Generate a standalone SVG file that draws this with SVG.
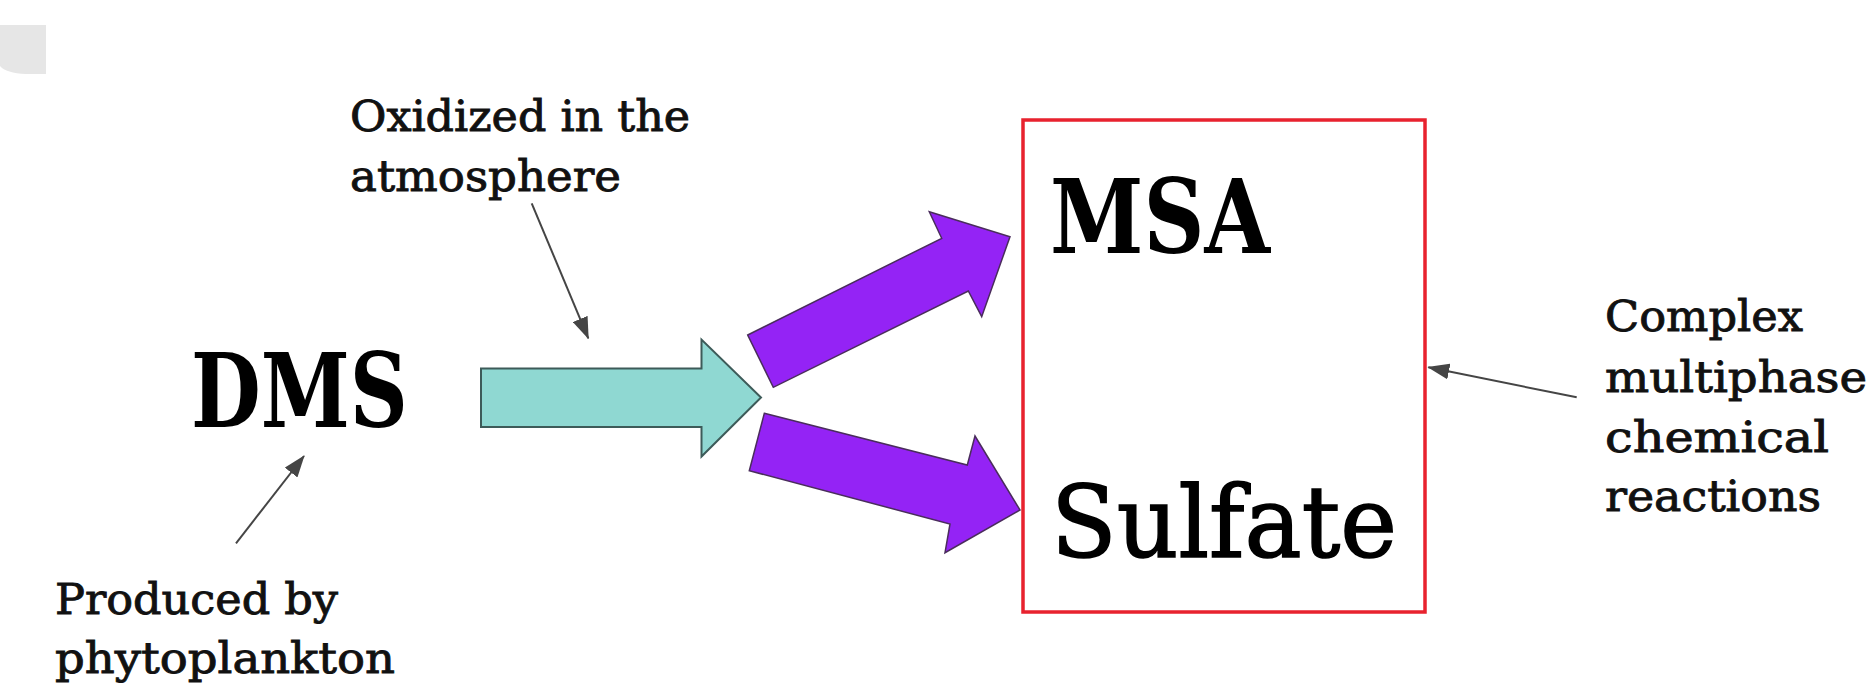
<svg xmlns="http://www.w3.org/2000/svg" width="1869" height="685" viewBox="0 0 1869 685">
  <style>
    .lbl { font-family: "DejaVu Serif", "Liberation Serif", serif; font-size: 43px; fill: #111; stroke: #111; stroke-width: 0.9; }
    .big { font-family: "DejaVu Serif", "Liberation Serif", serif; font-weight: bold; font-size: 102px; fill: #000; }
    .bigr { font-family: "DejaVu Serif", "Liberation Serif", serif; font-size: 100px; fill: #000; stroke: #000; stroke-width: 1.6; }
    .teal { fill: #8fd8d2; stroke: #3d5b59; stroke-width: 2; stroke-linejoin: miter; }
    .purple { fill: #9423f5; stroke: #4a2d5c; stroke-width: 1.5; stroke-linejoin: miter; }
    .conn { stroke: #454545; stroke-width: 2; fill: none; }
    .box { fill: #ffffff; stroke: #e8222e; stroke-width: 3.5; }
  </style>
  <defs>
    <marker id="ah" markerUnits="userSpaceOnUse" markerWidth="22" markerHeight="16" viewBox="0 0 22 16" refX="21" refY="8" orient="auto">
      <path d="M0,0 L22,8 L0,16 Z" fill="#454545"/>
    </marker>
  </defs>
  <rect width="1869" height="685" fill="#ffffff"/>
  <path d="M0,25 L46,25 L46,74 L26,74 Q6,73 0,66 Z" fill="#e6e6e6"/>

  <g id="node-dms">
    <text class="big" x="191" y="427" textLength="217" lengthAdjust="spacingAndGlyphs">DMS</text>
  </g>
  <g id="node-produced">
    <text class="lbl" x="55" y="614" textLength="283" lengthAdjust="spacingAndGlyphs">Produced by</text>
    <text class="lbl" x="55" y="673" textLength="340" lengthAdjust="spacingAndGlyphs">phytoplankton</text>
  </g>
  <g id="node-oxidized">
    <text class="lbl" x="350" y="131" textLength="340" lengthAdjust="spacingAndGlyphs">Oxidized in the</text>
    <text class="lbl" x="350" y="191" textLength="271" lengthAdjust="spacingAndGlyphs">atmosphere</text>
  </g>
  <g id="node-box">
    <rect class="box" x="1023" y="120" width="402" height="492"/>
    <text class="big" x="1050" y="253" textLength="220" lengthAdjust="spacingAndGlyphs">MSA</text>
    <text class="bigr" x="1051" y="557" textLength="346" lengthAdjust="spacingAndGlyphs">Sulfate</text>
  </g>
  <g id="node-complex">
    <text class="lbl" x="1605" y="331" textLength="198" lengthAdjust="spacingAndGlyphs">Complex</text>
    <text class="lbl" x="1605" y="392" textLength="262" lengthAdjust="spacingAndGlyphs">multiphase</text>
    <text class="lbl" x="1605" y="452" textLength="224" lengthAdjust="spacingAndGlyphs">chemical</text>
    <text class="lbl" x="1605" y="511" textLength="216" lengthAdjust="spacingAndGlyphs">reactions</text>
  </g>
  <g id="flow-arrows">
    <polygon id="arrow-teal" class="teal" points="481,368.5 701.5,368.5 701.5,339.5 761,397.5 701.5,456.5 701.5,427 481,427"/>
    <polygon id="arrow-msa" class="purple" points="747.7,335 941.7,238.3 929.3,211.7 1010,236.7 981.7,316.7 968.3,291 773.3,387.3"/>
    <polygon id="arrow-sulfate" class="purple" points="764.3,413.3 967.3,465 975,436 1020,510 945,552.7 950,524 749.3,470.7"/>
  </g>
  <g id="connectors">
    <line class="conn" x1="531.7" y1="203.3" x2="588.3" y2="338.3" marker-end="url(#ah)"/>
    <line class="conn" x1="236" y1="543.3" x2="304" y2="456" marker-end="url(#ah)"/>
    <line class="conn" x1="1576.7" y1="397.3" x2="1428.3" y2="367.3" marker-end="url(#ah)"/>
  </g>
</svg>
